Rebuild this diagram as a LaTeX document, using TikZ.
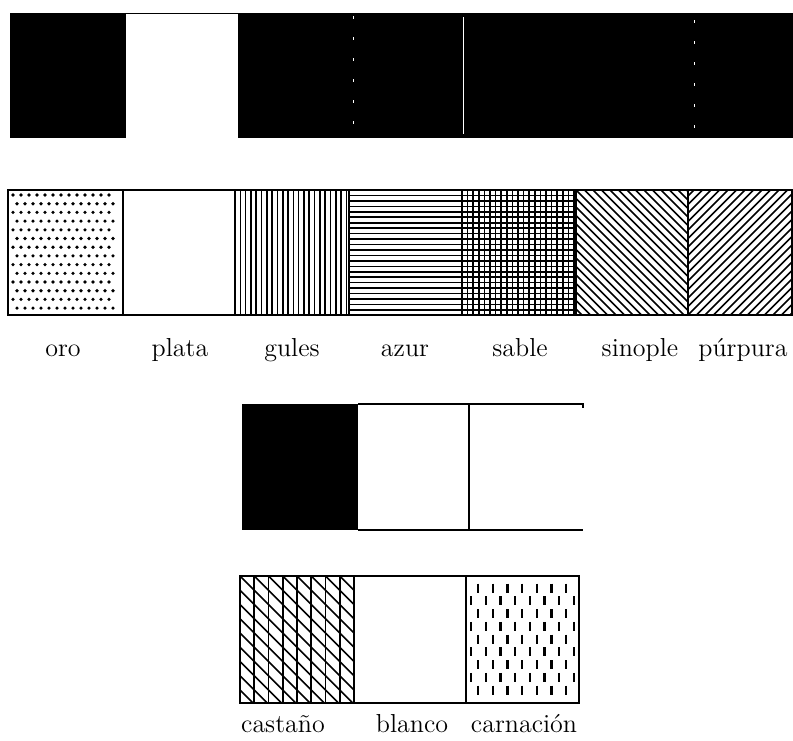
\documentclass[tikz,border=0pt]{standalone}
\begin{document}
\begin{tikzpicture}[x=0.5pt,y=-0.5pt]
	% Estilos
	\tikzstyle{marco}=[line width=0.9pt]
	\tikzstyle{trama}=[line width=0.8pt]
	\tikzstyle{filete}=[white,line width=0.5pt]
	\tikzstyle{filetefino}=[white,line width=0.4pt,dash pattern=on 1.5pt off 9pt]
	\tikzstyle{rotulo}=[anchor=base,inner sep=0pt,font=\fontsize{13}{15}\selectfont]
	% Dimensiones
	\def\FilaA{13}\def\FilaAb{138}
	\def\FilaB{190}\def\FilaBb{315}
	\def\FilaC{404}\def\FilaCb{530}
	\def\FilaD{576}\def\FilaDb{703}
	\def\BaseB{356}
	\def\BaseD{732}
	\useasboundingbox (0,0) rectangle (793,740);
	% Fila negra (arriba)
	\fill (10,\FilaA) rectangle (793,\FilaAb);
	\fill[white] (126,{\FilaA+0.5}) rectangle (238,{\FilaAb-0.5});
	\draw[filetefino] (353,16) -- (353,135);
	\draw[filete] (463,17) -- (463,134);
	\draw[filetefino] (694,20) -- (694,135);
	% Oro
	\foreach \i in {0,...,13}{
		\foreach \j in {0,...,12}{
			\fill ({13+8*\j+4*mod(\i,2)},{195+8.7*\i}) circle (0.9pt);
		}
	}
	% Gules
	\begin{scope}
		\clip (235,\FilaB) rectangle (349,\FilaBb);
		\foreach \k in {1,...,21}{\draw[trama] ({235+5.3*\k},\FilaB) -- ({235+5.3*\k},\FilaBb);}
	\end{scope}
	% Azur
	\foreach \k in {1,...,22}{\draw[trama] (349,{190+5.45*\k}) -- (462,{190+5.45*\k});}
	% Sable
	\begin{scope}
		\clip (462,\FilaB) rectangle (576,\FilaBb);
		\foreach \k in {1,...,20}{\draw[trama] ({462+5.6*\k},\FilaB) -- ({462+5.6*\k},\FilaBb);}
		\foreach \k in {1,...,22}{\draw[trama] (462,{190+5.45*\k}) -- (576,{190+5.45*\k});}
	\end{scope}
	% Sinople
	\begin{scope}
		\clip (576,\FilaB) rectangle (688,\FilaBb);
		\foreach \k in {-15,...,14}{\draw[trama] ({576+8.5*\k},\FilaB) -- ({701+8.5*\k},\FilaBb);}
	\end{scope}
	% Purpura
	\begin{scope}
		\clip (688,\FilaB) rectangle (792,\FilaBb);
		\foreach \k in {-15,...,14}{\draw[trama] ({688+8.5*\k},\FilaBb) -- ({813+8.5*\k},\FilaB);}
	\end{scope}
	% Marco de la fila de esmaltes
	\draw[marco] (8,\FilaB) rectangle (792,\FilaBb);
	\foreach \x in {123,235,349,462,576,688}{\draw[marco] (\x,\FilaB) -- (\x,\FilaBb);}
	% Rotulos
	\node[rotulo] (oro) at (63,\BaseB) {oro};
	\node[rotulo] (plata) at (180,\BaseB) {plata};
	\node[rotulo] (gules) at (292,\BaseB) {gules};
	\node[rotulo] (azur) at (405,\BaseB) {azur};
	\node[rotulo] (sable) at (520,\BaseB) {sable};
	\node[rotulo] (sinople) at (640,\BaseB) {sinople};
	\node[rotulo] (purpura) at (743,\BaseB) {púrpura};
	% Fila negra (abajo)
	\fill (242,\FilaC) rectangle (358,\FilaCb);
	\draw[marco] (358,\FilaC) -- (583,\FilaC) -- (583,{\FilaC+4});
	\draw[marco] (358,\FilaCb) -- (583,\FilaCb);
	\draw[marco] (469,\FilaC) -- (469,\FilaCb);
	% Castano
	\begin{scope}
		\clip (240,\FilaD) rectangle (354,\FilaDb);
		\foreach \k in {1,...,7}{\draw[trama] ({240+14.25*\k},\FilaD) -- ({240+14.25*\k},\FilaDb);}
		\foreach \k in {-9,...,9}{\draw[trama] (240,{\FilaD+14.25*\k}) -- (354,{\FilaD+14.25*\k+114});}
	\end{scope}
	% Carnacion
	\foreach \i in {0,...,8}{
		\pgfmathsetmacro{\Yc}{588+12.75*\i}
		\pgfmathsetmacro{\Xo}{mod(\i,2)==0 ? 478 : 471}
		\pgfmathsetmacro{\Nd}{mod(\i,2)==0 ? 6 : 7}
		\foreach \j in {0,...,\Nd}{
			\draw[line width=1.1pt] ({\Xo+14.7*\j},{\Yc-4.5}) -- ({\Xo+14.7*\j},{\Yc+4.5});
		}
	}
	% Marco de la fila de carnes
	\draw[marco] (240,\FilaD) rectangle (579,\FilaDb);
	\draw[marco] (354,\FilaD) -- (354,\FilaDb);
	\draw[marco] (466,\FilaD) -- (466,\FilaDb);
	% Rotulos
	\node[rotulo] (castano) at (283,\BaseD) {castaño};
	\node[rotulo] (blanco) at (412,\BaseD) {blanco};
	\node[rotulo] (carnacion) at (524,\BaseD) {carnación};
\end{tikzpicture}
\end{document}
